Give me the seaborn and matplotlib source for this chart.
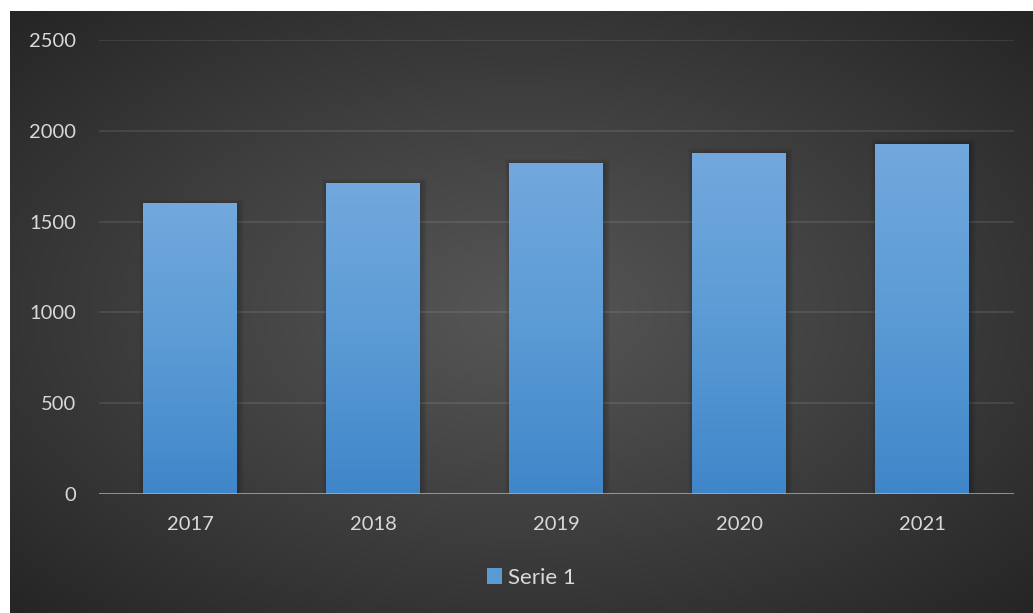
import numpy as np
import pandas as pd
import matplotlib
matplotlib.use("Agg")
import matplotlib.pyplot as plt
import seaborn as sns
from matplotlib.patches import Patch, Rectangle
from matplotlib.colors import LinearSegmentedColormap

# ---- data ----
years = ["2017", "2018", "2019", "2020", "2021"]
values = [1600, 1710, 1820, 1880, 1930]
series_name = "Serie 1"
y_ticks = [0, 500, 1000, 1500, 2000, 2500]

df = pd.DataFrame({"year": years, "value": values})

sns.set_theme(style="dark")
plt.rcParams["font.family"] = ["Lato", "DejaVu Sans"]
TXT = "#d9d9d9"

W, H = 1033, 613
fig = plt.figure(figsize=(W / 100, H / 100), dpi=100, facecolor="white")

# background: radial gradient
bg = fig.add_axes([10 / W, 0, (W - 10) / W, (H - 11) / H])
yy, xx = np.mgrid[0:1:400j, 0:1:700j]
r = np.sqrt(((xx - 0.5) / 0.5) ** 2 + ((yy - 0.5) / 0.5) ** 2) / np.sqrt(2)
g = 0.335 - 0.19 * np.clip(r, 0, 1) ** 1.1
img = np.dstack([g, g, g])
bg.imshow(img, aspect="auto", extent=(0, 1, 0, 1), interpolation="bilinear")
bg.set_axis_off()

# main axes
ax = fig.add_axes([98.5 / W, (H - 494) / H, 915 / W, 454 / H])
ax.patch.set_alpha(0)
sns.barplot(data=df, x="year", y="value", ax=ax, width=0.51,
            color="#5b9bd5", saturation=1, zorder=3)

ax.set_xlim(-0.5, 4.5)
ax.set_ylim(0, 2500)
ax.set_yticks(y_ticks)
ax.set_yticklabels([str(t) for t in y_ticks])
ax.set_xlabel("")
ax.set_ylabel("")
for s in ax.spines.values():
    s.set_visible(False)
ax.grid(False)
for t in y_ticks[1:]:
    ax.axhline(t, color="white", alpha=0.11, lw=1.2, zorder=1)
ax.axhline(0, color="#b0b0b0", lw=1.8, zorder=6)
ax.tick_params(axis="y", length=0, pad=16, labelsize=14.5, labelcolor=TXT)
ax.tick_params(axis="x", length=0, pad=16, labelsize=14.5, labelcolor=TXT)

# gradient bars + soft shadow
cmap = LinearSegmentedColormap.from_list("barg", ["#3f86c9", "#5b9bd5", "#72a8dd"])
px_x = 5 / 915
px_y = 2500 / 454
grad = np.linspace(0, 1, 256).reshape(-1, 1)
for p in list(ax.patches):
    x0, w, h = p.get_x(), p.get_width(), p.get_height()
    for k in range(1, 7):
        ax.add_patch(Rectangle((x0 - k * px_x + 1.5 * px_x, 0), w + 2 * k * px_x,
                               h + k * px_y - 1.5 * px_y,
                               facecolor="black", edgecolor="none",
                               alpha=0.03, zorder=2))
    im = ax.imshow(grad, cmap=cmap, origin="lower", aspect="auto",
                   extent=(x0, x0 + w, 0, h), zorder=4, interpolation="bilinear")
    im.set_clip_path(p)
    p.set_edgecolor("none")

ax.set_xlim(-0.5, 4.5)
ax.set_ylim(0, 2500)

# legend
handle = Patch(facecolor="#5b9bd5", edgecolor="none", label=series_name)
fig.legend(handles=[handle], loc="center", bbox_to_anchor=(531 / W, 1 - 578 / H),
           frameon=False, handlelength=0.7, handleheight=0.7, handletextpad=0.25,
           fontsize=16, labelcolor=TXT)

fig.savefig("out.png", dpi=100, facecolor="white")
